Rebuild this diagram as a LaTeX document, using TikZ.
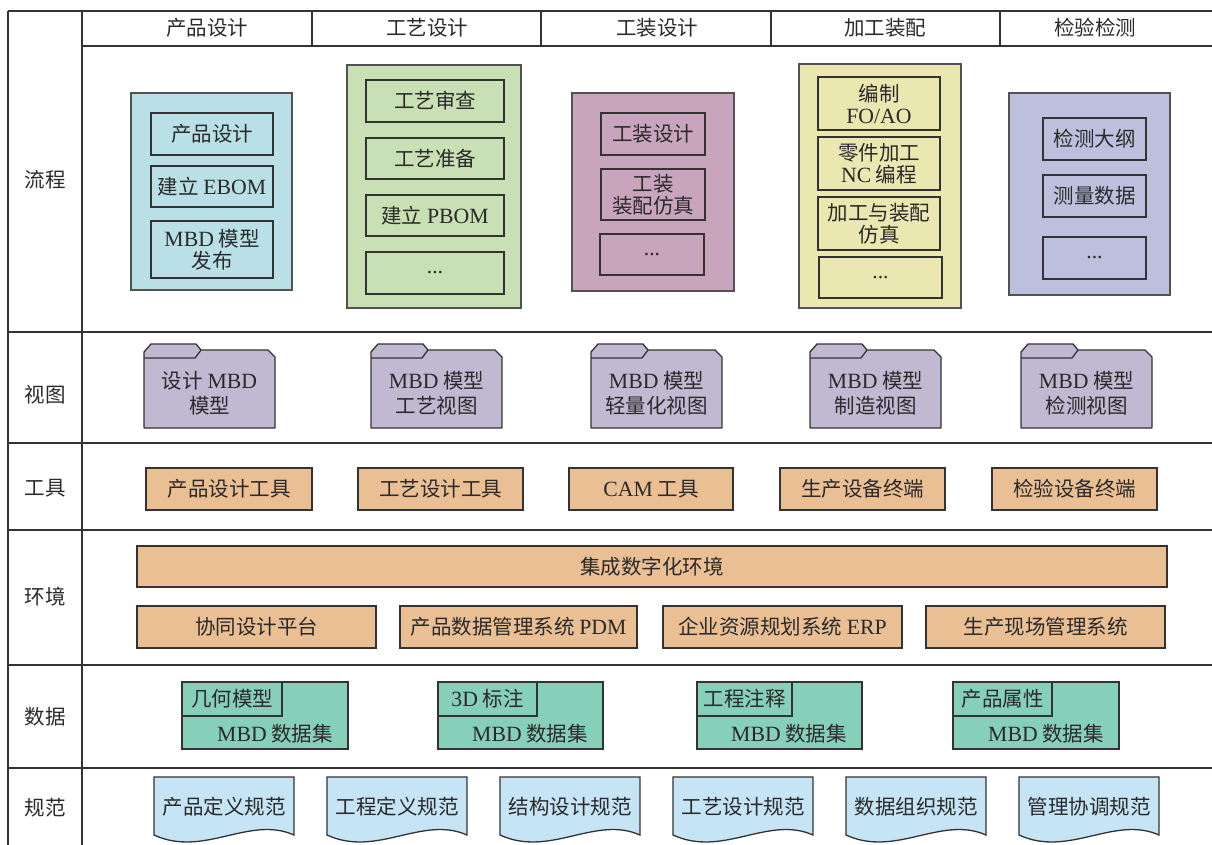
\documentclass[tikz,border=0pt]{standalone}
\usepackage{fontspec}
\setmainfont{Noto Sans CJK SC}
\newfontfamily\lat[Scale=1.06]{Liberation Serif}
\newcommand\E[1]{{\lat #1}}
\definecolor{cyanF}{HTML}{B8E0E6}
\definecolor{greenF}{HTML}{C8E0B4}
\definecolor{pinkF}{HTML}{C9A5BD}
\definecolor{yellowF}{HTML}{EAE7B1}
\definecolor{lavF}{HTML}{BCC0DC}
\definecolor{folderF}{HTML}{C1B8D2}
\definecolor{tanF}{HTML}{EABF94}
\definecolor{mintF}{HTML}{86CFB8}
\definecolor{docF}{HTML}{C5E4F5}
\definecolor{lineC}{HTML}{333333}
\definecolor{txtC}{HTML}{2A2A2A}
\tikzset{
  gridline/.style={line width=1.5pt, draw=lineC},
  outerbox/.style={draw=lineC!85, line width=1.3pt},
  inner/.style={draw=lineC, line width=1.3pt, align=center, inner sep=0pt},
  lbl/.style={align=center, inner sep=0pt},
  foldertxt/.style={lbl, font=\fontsize{20.5}{25}\selectfont},
}
\newcommand\rnode[7]{\node[#1, minimum width={#5-#3}, minimum height={#6-#4}] (#2) at ({(#3+#5)/2},{(#4+#6)/2}) {#7};}
\newcommand\folder[3]{%
  \filldraw[draw=lineC, line width=1.3pt, fill=folderF, line join=round]
    (#1,352) -- ({#1+7},344) -- ({#1+52},344) -- ({#1+57},350) -- ({#1+124},350) -- ({#1+131},357)
    -- ({#1+131},428) -- (#1,428) -- cycle;
  \draw[draw=lineC, line width=1.3pt] (#1,358) -- ({#1+51},358) -- ({#1+57},350);
  \node[foldertxt] (#2) at ({#1+65.5},393) {#3};}
\newcommand\dataset[5]{% L, tab right, R, name, tab text
  \filldraw[draw=lineC, line width=1.3pt, fill=mintF] (#1,682) rectangle (#3,749);
  \draw[draw=lineC, line width=1.3pt] (#1,716) -- (#2,716) -- (#2,682);
  \node[lbl] (#4t) at ({(#1+#2)/2},699) {#5};
  \node[lbl, anchor=east] (#4m) at ({#3-15},734) {\E{MBD} 数据集};}
\newcommand\doc[3]{% L, name, text
  \filldraw[draw=lineC, line width=1.3pt, fill=docF]
    (#1,777) -- ({#1+140},777) -- ({#1+140},835)
    .. controls ({#1+95},815) and ({#1+50},858) .. (#1,835) -- cycle;
  \node[lbl] (#2) at ({#1+70},807) {#3};}
\begin{document}
\begin{tikzpicture}[x=1pt,y=-1pt, font=\fontsize{20.5}{22}\selectfont, text=txtC]
\useasboundingbox (0,0) rectangle (1212,845);
% grid
\draw[gridline] (8,11) -- (8,850);
\draw[gridline] (82,11) -- (82,850);
\draw[gridline] (8,11) -- (1216,11);
\draw[gridline] (82,46) -- (1216,46);
\foreach \x in {312,541,771,1000} \draw[gridline] (\x,11) -- (\x,46);
\foreach \y in {332,443,530,665,768} \draw[gridline] (8,\y) -- (1216,\y);
% headers
\node[lbl] (h1) at (207,28) {产品设计};
\node[lbl] (h2) at (427,28) {工艺设计};
\node[lbl] (h3) at (657,28) {工装设计};
\node[lbl] (h4) at (885,28) {加工装配};
\node[lbl] (h5) at (1095,28) {检验检测};
% row labels
\node[lbl] (r1) at (45,180) {流程};
\node[lbl] (r2) at (45,395) {视图};
\node[lbl] (r3) at (45,488) {工具};
\node[lbl] (r4) at (45,597) {环境};
\node[lbl] (r5) at (45,717) {数据};
\node[lbl] (r6) at (45,808) {规范};
% process column 1
\draw[outerbox, fill=cyanF] (131,93) rectangle (292,290);
\rnode{inner}{p11}{151}{113}{273}{155}{产品设计}
\rnode{inner}{p12}{151}{166}{273}{207}{建立 \E{EBOM}}
\rnode{inner}{p13}{151}{221}{273}{278}{\E{MBD} 模型\\发布}
% process column 2
\draw[outerbox, fill=greenF] (347,65) rectangle (521,308);
\rnode{inner}{p21}{366}{80}{504}{122}{工艺审查}
\rnode{inner}{p22}{366}{138}{504}{179}{工艺准备}
\rnode{inner}{p23}{366}{195}{504}{236}{建立 \E{PBOM}}
\rnode{inner}{p24}{366}{252}{504}{294}{\E{...}}
% process column 3
\draw[outerbox, fill=pinkF] (572,93) rectangle (734,291);
\rnode{inner}{p31}{601}{113}{705}{155}{工装设计}
\rnode{inner}{p32}{601}{169}{705}{220}{工装\\装配仿真}
\rnode{inner}{p33}{600}{234}{704}{275}{\E{...}}
% process column 4
\draw[outerbox, fill=yellowF] (799,64) rectangle (961,308);
\rnode{inner}{p41}{818}{77}{940}{130}{编制\\\E{FO/AO}}
\rnode{inner}{p42}{818}{137}{940}{190}{零件加工\\\E{NC} 编程}
\rnode{inner}{p43}{818}{197}{940}{250}{加工与装配\\仿真}
\rnode{inner}{p44}{819}{257}{942}{298}{\E{...}}
% process column 5
\draw[outerbox, fill=lavF] (1009,93) rectangle (1170,295);
\rnode{inner}{p51}{1043}{118}{1146}{160}{检测大纲}
\rnode{inner}{p52}{1043}{175}{1146}{217}{测量数据}
\rnode{inner}{p53}{1043}{237}{1146}{279}{\E{...}}
% views
\folder{144}{v1}{设计 \E{MBD}\\模型}
\folder{371}{v2}{\E{MBD} 模型\\工艺视图}
\folder{591}{v3}{\E{MBD} 模型\\轻量化视图}
\folder{810}{v4}{\E{MBD} 模型\\制造视图}
\folder{1021}{v5}{\E{MBD} 模型\\检测视图}
% tools
\rnode{inner, fill=tanF}{t1}{146}{468}{312}{510}{产品设计工具}
\rnode{inner, fill=tanF}{t2}{358}{468}{523}{510}{工艺设计工具}
\rnode{inner, fill=tanF}{t3}{569}{468}{733}{510}{\E{CAM} 工具}
\rnode{inner, fill=tanF}{t4}{780}{468}{945}{510}{生产设备终端}
\rnode{inner, fill=tanF}{t5}{992}{468}{1157}{510}{检验设备终端}
% environment
\rnode{inner, fill=tanF}{e0}{137}{546}{1167}{587}{集成数字化环境}
\rnode{inner, fill=tanF}{e1}{137}{606}{376}{648}{协同设计平台}
\rnode{inner, fill=tanF}{e2}{400}{606}{637}{648}{产品数据管理系统 \E{PDM}}
\rnode{inner, fill=tanF}{e3}{663}{606}{902}{648}{企业资源规划系统 \E{ERP}}
\rnode{inner, fill=tanF}{e4}{926}{606}{1165}{648}{生产现场管理系统}
% data
\dataset{182}{282}{348}{d1}{几何模型}
\dataset{438}{537}{603}{d2}{\E{3D} 标注}
\dataset{697}{792}{862}{d3}{工程注释}
\dataset{953}{1052}{1119}{d4}{产品属性}
% specs
\doc{154}{s1}{产品定义规范}
\doc{327}{s2}{工程定义规范}
\doc{500}{s3}{结构设计规范}
\doc{673}{s4}{工艺设计规范}
\doc{846}{s5}{数据组织规范}
\doc{1019}{s6}{管理协调规范}
\end{tikzpicture}
\end{document}
